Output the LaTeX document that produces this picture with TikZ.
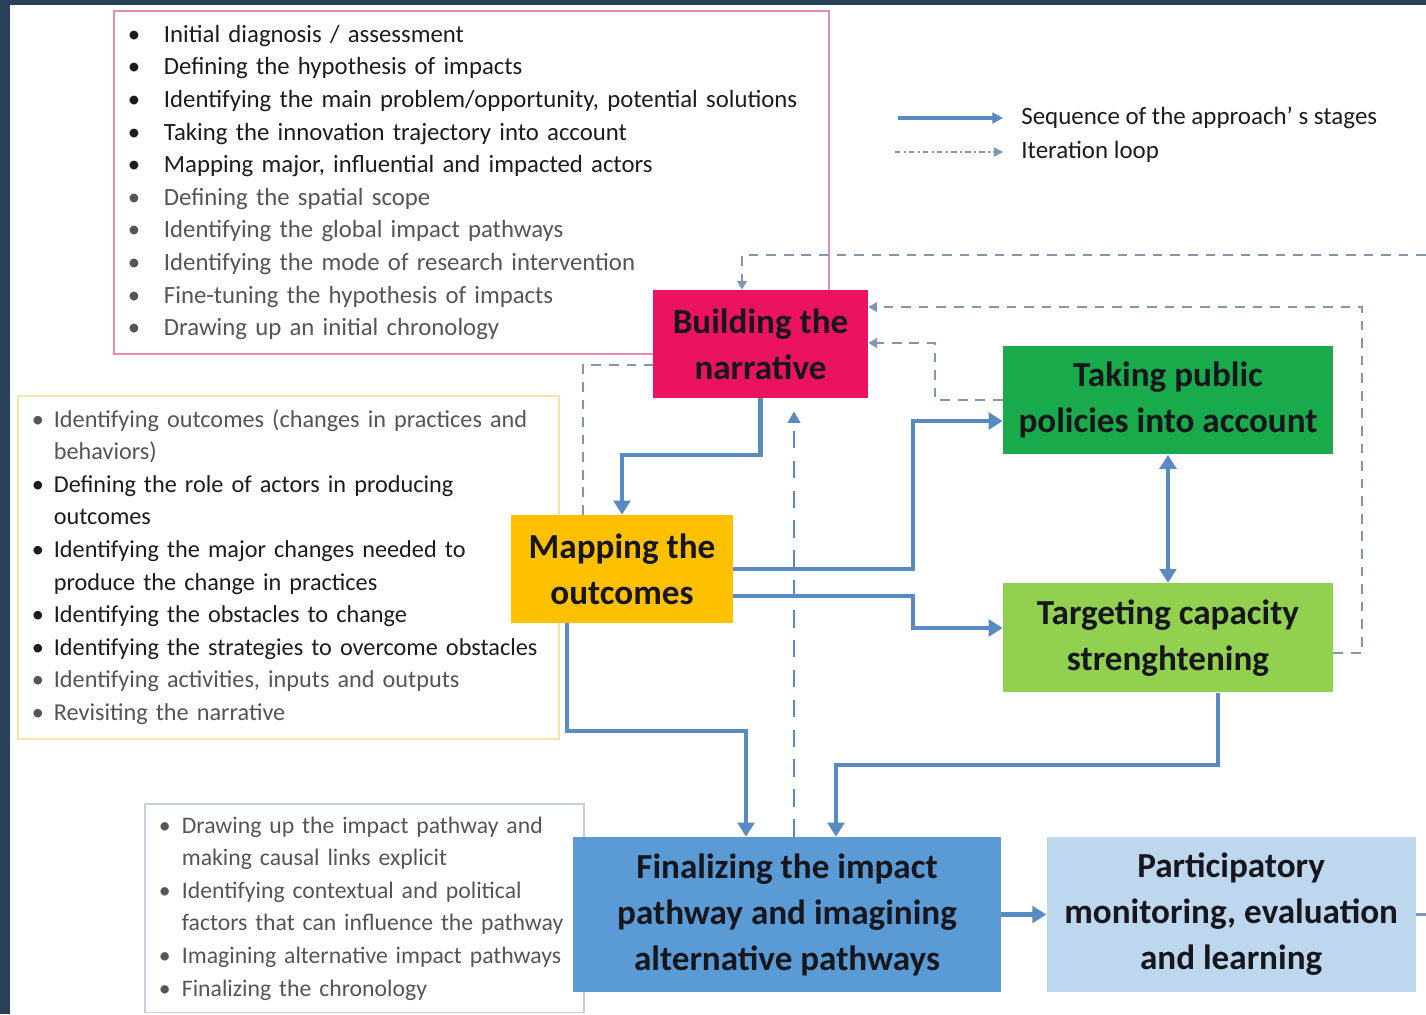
\documentclass[tikz,border=0pt]{standalone}
\usepackage{fontspec}
\setmainfont{Carlito}
\usepackage{tikz}
\usetikzlibrary{arrows.meta,positioning,calc}
\usepackage{xcolor}

\definecolor{frame}{RGB}{40,64,90}
\definecolor{narrpink}{RGB}{236,18,98}
\definecolor{polgreen}{RGB}{24,170,75}
\definecolor{capgreen}{RGB}{146,208,80}
\definecolor{outamber}{RGB}{255,192,0}
\definecolor{finblue}{RGB}{91,155,213}
\definecolor{monblue}{RGB}{189,215,238}
\definecolor{seqblue}{RGB}{88,139,196}
\definecolor{itergrey}{RGB}{128,150,180}
\definecolor{stagetxt}{RGB}{22,22,28}
\definecolor{txtdark}{RGB}{28,28,28}
\definecolor{txtgrey}{RGB}{85,85,85}
\definecolor{pinkline}{RGB}{232,140,180}
\definecolor{yellowline}{RGB}{242,230,170}
\definecolor{blueline}{RGB}{195,208,226}

% bullet rows: dark / grey, and wrapped lines
\newcommand{\itm}[1]{\textcolor{txtdark}{\textbullet} & \textcolor{txtdark}{#1}\\}
\newcommand{\itg}[1]{\textcolor{txtgrey}{\textbullet} & \textcolor{txtgrey}{#1}\\}
\newcommand{\nxt}[1]{ & \textcolor{txtdark}{#1}\\}
\newcommand{\nxg}[1]{ & \textcolor{txtgrey}{#1}\\}

\begin{document}
\begin{tikzpicture}[x=0.02cm, y=-0.02cm, every node/.style={inner sep=0pt}]
\tikzset{stage/.style={rectangle, align=center, text=stagetxt, font=\bfseries\fontsize{20}{26.2}\selectfont}}
\tikzset{note/.style={draw, anchor=north west, inner xsep=0.28cm, inner ysep=0.17cm, align=left, font=\fontsize{13.8}{18.55}\selectfont}}
\tikzset{seq/.style={draw=seqblue, line width=2.3pt, -{Triangle[width=9.5pt,length=8pt]}}}
\tikzset{iter/.style={draw=itergrey, line width=1.5pt, dash pattern=on 5.5pt off 4.5pt, -{Triangle[width=5.5pt,length=5pt]}}}
\tikzset{iterlong/.style={draw=seqblue, line width=1.6pt, dash pattern=on 10pt off 7pt, -{Triangle[width=7pt,length=6.5pt]}}}
\useasboundingbox (0,0) rectangle (1426,1014);
\fill[frame] (0,0) rectangle (1426,1014);
\fill[white] (10,5) rectangle (1426,1014);

% lists of steps
\node[note, draw=pinkline, line width=1.1pt, text width=13.74cm, font=\fontsize{14.1}{18.55}\selectfont] (narrlist) at (113,10) {%
\begin{tabular}{@{}p{0.72cm}@{}l@{}}
\itm{Initial diagnosis / assessment}
\itm{Defining the hypothesis of impacts}
\itm{Identifying the main problem/opportunity, potential solutions}
\itm{Taking the innovation trajectory into account}
\itm{Mapping major, influential and impacted actors}
\itg{Defining the spatial scope}
\itg{Identifying the global impact pathways}
\itg{Identifying the mode of research intervention}
\itg{Fine-tuning the hypothesis of impacts}
\itg{Drawing up an initial chronology}
\end{tabular}};
\node[note, draw=yellowline, line width=1pt, text width=10.26cm] (outlist) at (17,395) {%
\begin{tabular}{@{}p{0.44cm}@{}l@{}}
\itg{Identifying outcomes (changes in practices and}
\nxg{behaviors)}
\itm{Defining the role of actors in producing}
\nxt{outcomes}
\itm{Identifying the major changes needed to}
\nxt{produce the change in practices}
\itm{Identifying the obstacles to change}
\itm{Identifying the strategies to overcome obstacles}
\itg{Identifying activities, inputs and outputs}
\itg{Revisiting the narrative}
\end{tabular}};
\node[note, draw=blueline, line width=1pt, text width=8.22cm, inner ysep=0.13cm, font=\fontsize{13.5}{18.55}\selectfont] (finlist) at (144,803) {%
\begin{tabular}{@{}p{0.46cm}@{}l@{}}
\itg{Drawing up the impact pathway and}
\nxg{making causal links explicit}
\itg{Identifying contextual and political}
\nxg{factors that can influence the pathway}
\itg{Imagining alternative impact pathways}
\itg{Finalizing the chronology}
\end{tabular}};

% stages
\node[stage, fill=narrpink, minimum width=4.3cm, minimum height=2.16cm] (narr) at (760.5,344) {Building the\\narrative};
\node[stage, fill=polgreen, minimum width=6.6cm, minimum height=2.18cm] (policy) at (1168,400) {Taking public\\policies into account};
\node[stage, fill=capgreen, minimum width=6.6cm, minimum height=2.18cm, below=2.56cm of policy] (capacity) {Targeting capacity\\strenghtening};
\node[stage, fill=outamber, minimum width=4.44cm, minimum height=2.16cm] (outcomes) at (622,569) {Mapping the\\outcomes};
\node[stage, fill=finblue, minimum width=8.56cm, minimum height=3.1cm] (final) at (787,914.5) {Finalizing the impact\\pathway and imagining\\alternative pathways};
\node[stage, fill=monblue, minimum width=7.38cm, minimum height=3.1cm, right=0.9cm of final] (monitor) {Participatory\\monitoring, evaluation\\and learning};

% sequence
\draw[seq] (narr.south) -- ++(0,57) -| (outcomes.north);
\draw[seq] (outcomes.east) -- (913,569) |- (policy.west |- 0,421);
\draw[seq] (outcomes.east |- 0,596) -- (913,596) |- (capacity.west |- 0,628);
\draw[seq, {Triangle[width=9.5pt,length=8pt]}-{Triangle[width=9.5pt,length=8pt]}] (policy.south) -- (capacity.north);
\draw[seq] (outcomes.south -| 567,0) -- (567,731) -| (final.north -| 746,0);
\draw[seq] (capacity.south -| 1218,0) -- (1218,765) -| (final.north -| 836,0);
\draw[seq] (final.east) -- (monitor.west);
\coordinate (offR) at (1426,914.5);
\draw[itergrey, line width=1.2pt] (monitor.east) -- (offR);

% iteration loops
\draw[iterlong, shorten >=0.26cm] (final.north -| 794,0) -- (narr.south -| 794,0);
\coordinate (offT) at (1426,255);
\draw[iter] (offT) -| (narr.north -| 742,0);
\draw[iter] (capacity.east |- 0,653) -- (1362,653) |- (narr.east |- 0,307);
\draw[iter] (policy.west) -- (935,400) |- (narr.east |- 0,343);
\draw[iter, -] (outcomes.north -| 583,0) |- (narr.west |- 0,365);

% legend
\coordinate (lgA) at (898,118);
\coordinate (lgB) at (895,152);
\node[anchor=west, inner xsep=0.36cm, font=\fontsize{14.2}{16}\selectfont, text=txtdark] (lgseq) at (1003,118) {Sequence of the approach' s stages};
\node[anchor=west, inner xsep=0.36cm, font=\fontsize{14.2}{16}\selectfont, text=txtdark] (lgiter) at (1003,152) {Iteration loop};
\draw[seq, line width=1.8pt, -{Triangle[width=6pt,length=6pt]}] (lgA) -- (lgseq.west);
\draw[itergrey, line width=0.9pt, dash pattern=on 3pt off 2pt on 1pt off 2pt, -{Triangle[width=5pt,length=5pt]}] (lgB) -- (lgiter.west);
\end{tikzpicture}
\end{document}
